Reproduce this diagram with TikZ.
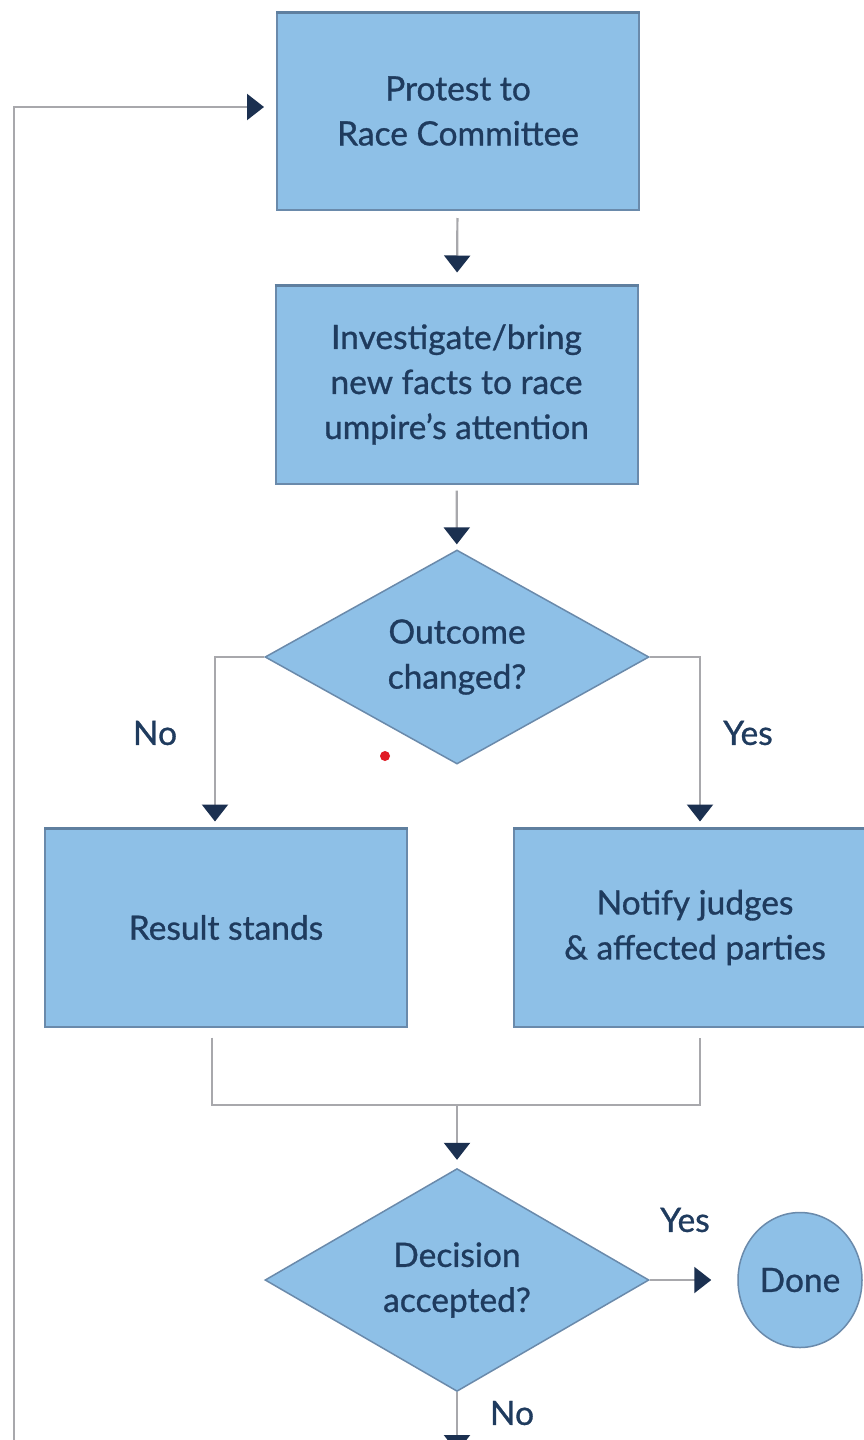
\documentclass[tikz,border=0pt]{standalone}
\usepackage{fontspec}
\setmainfont{Lato}[UprightFeatures={FakeBold=0.9}]
\usetikzlibrary{arrows.meta,shapes.geometric}
\definecolor{boxfill}{HTML}{8EC0E7}
\definecolor{boxline}{HTML}{6A8AAB}
\definecolor{boxtop}{HTML}{5F7F9F}
\definecolor{txtclr}{HTML}{1F3B5E}
\definecolor{connclr}{HTML}{A8A8AC}
\definecolor{tipclr}{HTML}{1B3050}
\definecolor{dotclr}{HTML}{E01B24}
\begin{document}
\begin{tikzpicture}[x=1pt,y=-1pt,
  txtfont/.style={text=txtclr, font=\fontsize{33.5}{45}\selectfont},
  procbox/.style={rectangle, fill=boxfill, draw=boxline, line width=2pt,
    minimum width=362pt, minimum height=198pt, inner sep=0pt, align=center, txtfont},
  decbox/.style={diamond, fill=boxfill, draw=boxline, line width=1.5pt,
    minimum width=384pt, minimum height=213pt, inner sep=0pt, align=center, txtfont},
  endbox/.style={ellipse, fill=boxfill, draw=boxline, line width=1.5pt,
    minimum width=124pt, minimum height=135pt, inner sep=0pt, txtfont},
  link/.style={draw=connclr, line width=2.2pt,
    -{Triangle[width=26pt,length=17pt,color=tipclr]}},
  plain/.style={draw=connclr, line width=2.2pt},
  lbl/.style={txtfont}
]
\useasboundingbox (0,0) rectangle (864,1440);
\fill[white] (0,0) rectangle (864,1440);

\node[procbox] (b1) at (458,111) {Protest to\\Race Committee};
\node[procbox] (b2) at (456.5,384.5) {Investigate/bring\\new facts to race\\umpire's attention};
\node[decbox] (d1) at (457,657) {Outcome\\changed?};
\node[procbox] (res) at (226,927.5) {Result stands};
\node[procbox] (notif) at (695,927.5) {Notify judges\\\& affected parties};
\node[decbox] (d2) at (457,1280) {Decision\\accepted?};
\node[endbox] (done) at (800,1280) {Done};

\foreach \n in {b1,b2,res,notif}
  \draw[boxtop, line width=3pt] ([yshift=-1pt]\n.north west) -- ([yshift=-1pt]\n.north east);

\node[lbl] (lno1) at (155,733) {No};
\node[lbl] (lyes1) at (748,733) {Yes};
\node[lbl] (lyes2) at (685,1220) {Yes};
\node[lbl] (lno2) at (512,1413) {No};

\node[circle, fill=dotclr, minimum size=10pt, inner sep=0pt] (dot) at (385,756) {};

\coordinate (fb) at (14,1445);
\coordinate (merge) at (457,1105);
\coordinate (out) at (457,1452);

\draw[link, shorten >=12pt] (fb) |- ([yshift=4pt]b1.west);
\draw[link, shorten <=7pt, shorten >=12pt] (b1) -- (b2);
\draw[link, shorten <=6pt, shorten >=5pt] (b2) -- (d1);
\draw[link, shorten >=6pt] (d1.west) -| ([xshift=-11pt]res.north);
\draw[link, shorten >=6pt] (d1.east) -| ([xshift=5pt]notif.north);
\draw[plain] ([xshift=-14pt,yshift=-10pt]res.south) |- (merge) -| ([xshift=5pt,yshift=-10pt]notif.south);
\draw[link, shorten >=8pt] (merge) -- (d2.north);
\draw[link, shorten >=26pt] (d2.east) -- (done.west);
\draw[link] (d2.south) -- (out);
\end{tikzpicture}
\end{document}
